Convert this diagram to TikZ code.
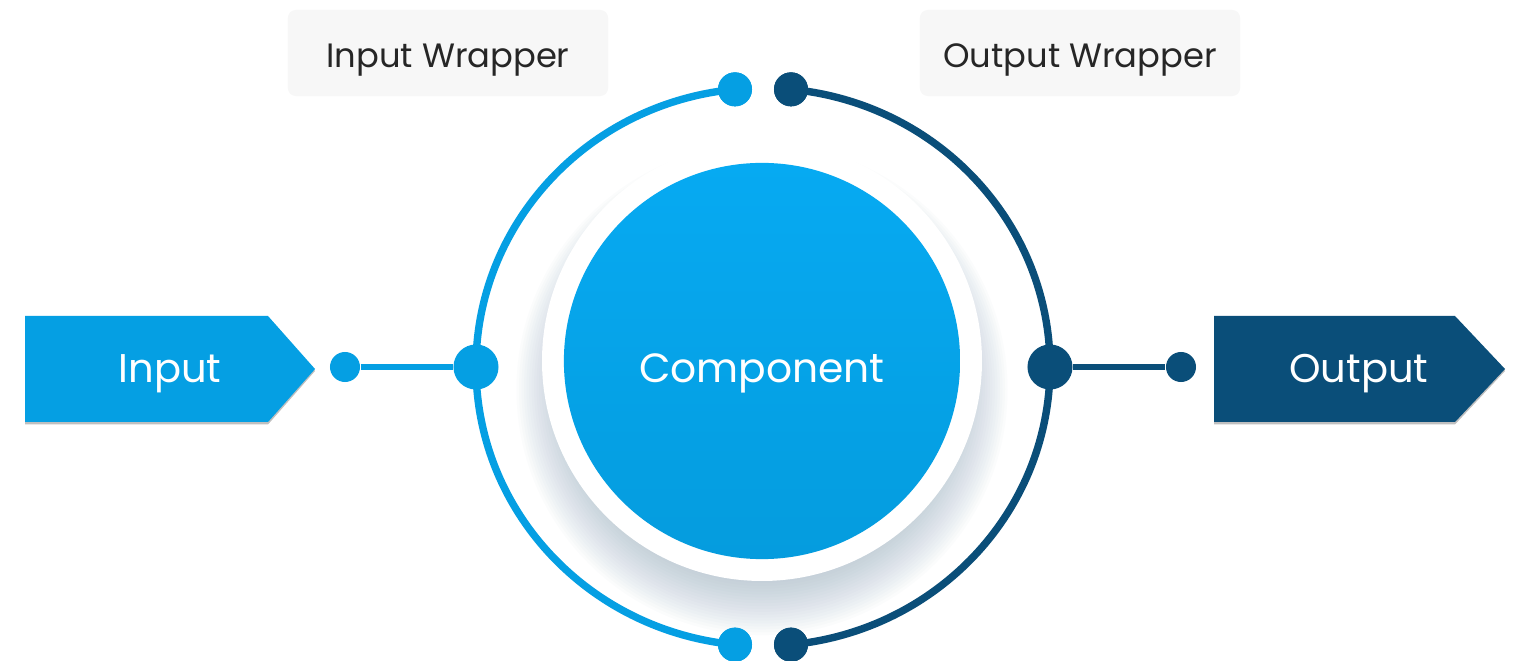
\documentclass[tikz,border=0pt]{standalone}
\usepackage{fontspec}
\setmainfont{Poppins}
\usetikzlibrary{calc}
\definecolor{lb}{HTML}{059FE3}
\definecolor{db}{HTML}{0A4E79}
\definecolor{cbtop}{HTML}{06AAF2}
\definecolor{cbbot}{HTML}{059CDE}
\definecolor{wbg}{HTML}{F7F7F7}
\definecolor{shc}{HTML}{8FA5BC}
\begin{document}
\begin{tikzpicture}[x=0.01cm,y=-0.01cm,
  arcline/.style={line width=2.1pt},
  linkline/.style={line width=1.7pt},
  bigdot/.style={circle, inner sep=0pt, minimum size=0.45cm},
  smalldot/.style={circle, inner sep=0pt, minimum size=0.30cm},
  enddot/.style={circle, inner sep=0pt, minimum size=0.34cm},
  tagshadow/.style={fill=black, opacity=0.25},
  tagtext/.style={inner sep=0pt, text=white, font=\fontsize{11.4}{13}\selectfont, text height=0.32cm, text depth=0.06cm},
  wrap/.style={rounded corners=0.08cm, fill=wbg, minimum width=3.2cm, minimum height=0.86cm, inner sep=0pt, font=\fontsize{9.6}{11}\selectfont, text=black!85, text height=0.34cm, text depth=0.06cm},
  comp/.style={circle, minimum size=3.96cm, inner sep=0pt, top color=cbtop, bottom color=cbbot, text=white, font=\fontsize{11.6}{13}\selectfont, text height=0.52cm, text depth=0.10cm}]
\fill[white] (0,0) rectangle (1520,661);
\useasboundingbox (0,0) rectangle (1520,661);
% shadow
\foreach \i in {0,...,19}{
  \fill[shc, opacity=0.032] (762,{382+\i*0.4}) circle[radius={198+\i*2.5}];
}
\fill[white] (762,361) circle[radius=220];
\node[comp] (comp) at (762,361) {Component};
\coordinate (C) at (763,367);
% ring dots
\node[enddot, fill=lb] (tl) at ($(C)+(264.4:287 and 279)$) {};
\node[enddot, fill=lb] (bl) at ($(C)+(95.6:287 and 279)$) {};
\node[enddot, fill=db] (tr) at ($(C)+(275.6:287 and 279)$) {};
\node[enddot, fill=db] (br) at ($(C)+(84.4:287 and 279)$) {};
\draw[arcline, lb] (tl.center) arc[start angle=264.4, end angle=95.6, x radius=287, y radius=279];
\draw[arcline, db] (tr.center) arc[start angle=275.6, end angle=444.4, x radius=287, y radius=279];
\node[enddot, fill=lb] at (tl) {};
\node[enddot, fill=lb] at (bl) {};
\node[enddot, fill=db] at (tr) {};
\node[enddot, fill=db] at (br) {};
% input side
\node[bigdot, fill=lb] (inB) at ($(C)+(180:287 and 279)$) {};
\node[smalldot, fill=lb] (inS) at (345,367) {};
\draw[linkline, lb] (inS) -- (inB);
% output side
\node[bigdot, fill=db] (outB) at ($(C)+(0:287 and 279)$) {};
\node[smalldot, fill=db] (outS) at (1181,367) {};
\draw[linkline, db] (outB) -- (outS);
% tags
\fill[tagshadow] (25,318) -- (268,318) -- (315,371) -- (268,424.5) -- (25,424.5) -- cycle;
\fill[lb] (25,316) -- (268,316) -- (315,369) -- (268,422) -- (25,422) -- cycle;
\node[tagtext] (input) at (170,369) {Input};
\fill[tagshadow] (1214,318) -- (1455,318) -- (1505,371) -- (1455,424.5) -- (1214,424.5) -- cycle;
\fill[db] (1214,316) -- (1455,316) -- (1505,369) -- (1455,422) -- (1214,422) -- cycle;
\node[tagtext] (output) at (1359,369) {Output};
% wrappers
\node[wrap] (iw) at (448,53) {Input Wrapper};
\node[wrap] (ow) at (1080,53) {Output Wrapper};
\end{tikzpicture}
\end{document}
